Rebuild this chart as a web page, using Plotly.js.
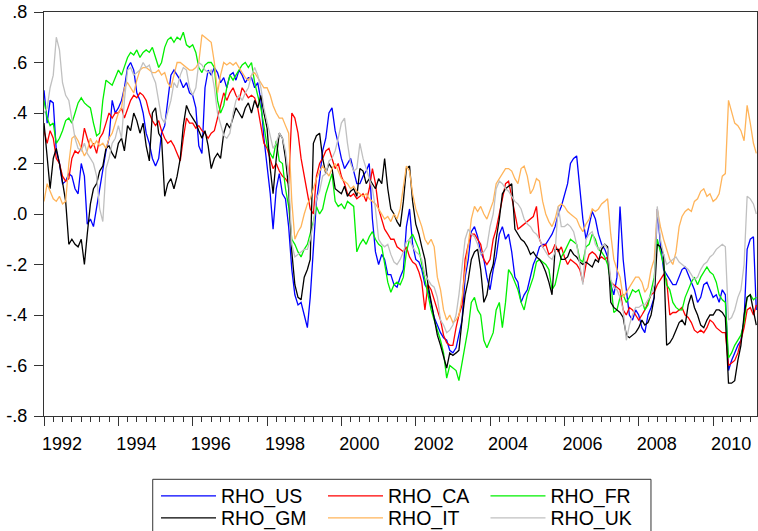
<!DOCTYPE html>
<html>
<head>
<meta charset="utf-8">
<script src="https://cdn.plot.ly/plotly-3.0.1.min.js"></script>
<style>html,body{margin:0;padding:0;background:#fff;}#chart{width:758px;height:531px;}</style>
</head>
<body>
<div id="chart"></div>
<script>
// Monthly observation dates, Jan 1992 - Mar 2011
const firstYear = 1992, lastYear = 2011, lastMonth = 3;
const months = [];
for (let y = firstYear; y <= lastYear; y++) {
  for (let m = 1; m <= 12; m++) {
    if (y === lastYear && m > lastMonth) break;
    months.push(y + '-' + String(m).padStart(2, '0') + '-01');
  }
}

const rhoUS = [
 .49,.36,.45,.44,.25,.20,.12,.13,.16,.15,.10,.08,
 .20,.15,-.04,-.02,-.05,.03,.10,.18,.25,.30,.45,.40,
 .42,.45,.50,.58,.60,.57,.48,.45,.40,.32,.28,.22,
 .19,.22,.32,.35,.45,.55,.57,.55,.53,.50,.52,.48,
 .47,.42,.27,.24,.50,.57,.55,.58,.56,.52,.54,.50,
 .55,.56,.53,.57,.55,.52,.54,.54,.50,.52,.45,.30,
 .19,.08,-.06,.10,.16,.08,.06,-.05,-.22,-.32,-.36,-.35,
 -.40,-.45,-.33,-.15,.05,.14,.25,.30,.40,.42,.33,.28,
 .22,.18,.20,.22,.17,.12,.12,.15,.17,.20,-.02,-.15,
 -.20,-.16,-.18,-.24,-.24,-.28,-.29,-.25,-.22,-.05,.02,-.12,
 -.18,-.19,-.22,-.28,-.30,-.36,-.41,-.44,-.47,-.49,-.50,-.54,
 -.55,-.53,-.48,-.42,-.25,-.18,-.07,-.05,-.09,-.15,-.18,-.25,
 -.30,-.22,-.17,-.08,-.05,-.10,-.08,-.15,-.25,-.27,-.35,-.32,
 -.30,-.25,-.20,-.17,-.13,-.12,-.12,-.10,-.08,-.05,.00,.03,
 .08,.12,.20,.22,.23,.10,-.02,-.10,-.05,.01,-.02,-.08,
 -.12,-.14,-.17,-.28,-.32,-.25,.03,-.18,-.30,-.40,-.42,-.38,
 -.40,-.45,-.47,-.40,-.37,-.33,.02,-.12,-.22,-.24,-.26,-.28,
 -.28,-.25,-.22,-.21,-.24,-.27,-.30,-.35,-.33,-.28,-.27,-.30,
 -.33,-.32,-.35,-.30,-.32,-.62,-.58,-.55,-.52,-.50,-.42,-.14,
 -.10,-.09,-.38
];
const rhoCA = [
 .33,.28,.33,.30,.22,.20,.15,.13,.14,.22,.25,.24,
 .26,.34,.30,.26,.28,.24,.30,.32,.36,.40,.38,.40,
 .40,.42,.38,.42,.45,.47,.46,.48,.47,.45,.40,.37,
 .35,.37,.33,.30,.28,.29,.27,.24,.21,.30,.38,.36,
 .36,.34,.35,.33,.32,.30,.32,.33,.38,.43,.48,.45,
 .48,.50,.47,.45,.50,.48,.46,.47,.46,.42,.35,.28,
 .26,.22,.18,.20,.17,.15,.14,.12,.40,.38,.32,.22,
 .15,.08,.02,.00,.15,.20,.22,.25,.26,.22,.18,.20,
 .15,.12,.08,.07,.08,.06,.07,.08,.05,.10,.18,.12,
 .02,-.02,-.06,-.08,-.10,-.10,-.13,-.14,-.15,-.13,-.17,-.19,
 -.20,-.23,-.27,-.38,-.28,-.30,-.34,-.38,-.42,-.48,-.51,-.52,
 -.52,-.45,-.40,-.36,-.18,-.12,-.08,-.08,-.10,-.12,-.18,-.20,
 -.18,-.10,-.06,.00,.05,.12,.13,.07,.00,-.06,-.05,-.04,
 -.03,-.02,-.01,.03,-.10,-.13,-.12,-.16,-.15,-.12,-.15,-.13,
 -.17,-.20,-.18,-.19,-.20,-.22,-.27,-.20,-.16,-.15,-.16,-.18,
 -.17,-.18,-.17,-.27,-.28,-.29,-.30,-.38,-.40,-.37,-.38,-.40,
 -.42,-.40,-.38,-.35,-.32,-.31,-.28,-.26,-.24,-.26,-.40,-.39,
 -.39,-.38,-.37,-.40,-.41,-.43,-.46,-.47,-.46,-.47,-.45,-.42,
 -.43,-.45,-.46,-.47,-.47,-.60,-.59,-.58,-.55,-.50,-.45,-.38,
 -.37,-.40,-.36
];
const rhoFR = [
 .45,.38,.35,.36,.28,.30,.33,.37,.38,.36,.40,.44,
 .46,.44,.43,.42,.36,.31,.32,.45,.53,.52,.51,.54,
 .57,.55,.58,.62,.64,.63,.65,.62,.64,.65,.64,.66,
 .62,.58,.60,.66,.69,.70,.68,.70,.69,.72,.67,.66,
 .67,.64,.58,.56,.59,.60,.60,.58,.45,.40,.43,.50,
 .55,.53,.55,.57,.59,.60,.58,.60,.52,.47,.42,.35,
 .27,.24,.22,.29,.21,.20,.10,.03,-.10,-.12,-.15,-.17,
 -.14,-.12,-.08,-.03,.03,.00,.02,.08,.12,.16,.05,.03,
 .04,.02,.05,.04,.03,-.15,-.12,-.10,-.12,-.09,-.07,-.10,
 -.12,-.13,-.20,-.27,-.31,-.28,-.27,-.28,-.25,-.15,-.10,-.08,
 -.11,-.14,-.20,-.26,-.32,-.38,-.42,-.46,-.50,-.55,-.65,-.60,
 -.61,-.62,-.66,-.58,-.52,-.45,-.35,-.33,-.38,-.40,-.50,-.53,
 -.50,-.47,-.38,-.35,-.45,-.35,-.22,-.24,-.27,-.30,-.35,-.38,
 -.32,-.28,-.25,-.19,-.18,-.19,-.20,-.22,-.30,-.28,-.22,-.17,
 -.15,-.12,-.10,-.11,-.12,-.18,-.19,-.13,-.12,-.08,-.10,-.14,
 -.15,-.17,-.20,-.27,-.39,-.38,-.33,-.32,-.35,-.33,-.30,-.31,
 -.30,-.34,-.38,-.36,-.30,-.25,-.10,-.15,-.20,-.28,-.30,-.35,
 -.37,-.38,-.38,-.33,-.30,-.27,-.25,-.28,-.25,-.23,-.21,-.23,
 -.24,-.27,-.32,-.34,-.35,-.57,-.55,-.52,-.50,-.48,-.43,-.33,
 -.32,-.34,-.33
];
const rhoGM = [
 .36,.24,.10,.22,.26,.20,.12,.05,-.12,-.10,-.12,-.13,
 -.10,-.20,-.08,.04,.10,.12,.17,.19,.26,.27,.24,.22,
 .28,.30,.25,.35,.33,.40,.37,.32,.36,.27,.21,.40,
 .42,.32,.30,.07,.12,.14,.10,.15,.22,.35,.43,.40,
 .38,.36,.33,.30,.33,.27,.18,.22,.24,.22,.32,.36,
 .34,.38,.42,.40,.38,.42,.44,.40,.45,.42,.47,.40,
 .34,.18,.08,.22,.32,.30,.22,.10,-.15,-.28,-.33,-.34,
 -.25,-.22,-.18,.28,.31,.32,.22,.16,.20,.18,.10,.09,
 .08,.11,.07,.09,.10,.07,.18,.17,.12,.14,.12,.10,
 .14,.12,.22,.10,.02,.00,-.03,-.05,.05,.18,.19,.05,
 -.04,-.08,-.13,-.18,-.28,-.35,-.42,-.48,-.52,-.57,-.61,-.55,
 -.56,-.55,-.54,-.42,-.32,-.26,-.18,-.15,-.14,-.22,-.35,-.32,
 -.24,-.20,-.10,-.02,.08,.10,.11,.12,-.06,-.08,-.10,-.11,
 -.13,-.16,-.15,-.17,-.18,-.20,-.23,-.27,-.32,-.14,-.14,-.18,
 -.18,-.17,-.14,-.16,-.17,-.19,-.20,-.19,-.20,-.21,-.18,-.19,
 -.14,-.12,-.13,-.35,-.37,-.38,-.39,-.41,-.48,-.49,-.48,-.47,
 -.45,-.42,-.44,-.43,-.40,-.33,-.12,-.13,-.16,-.52,-.51,-.49,
 -.46,-.43,-.42,-.44,-.36,-.32,-.37,-.40,-.44,-.45,-.42,-.40,
 -.40,-.38,-.38,-.39,-.41,-.67,-.67,-.66,-.58,-.52,-.40,-.33,
 -.32,-.38,-.44
];
const rhoIT = [
 .05,.12,.09,.06,.05,.07,.04,.05,.20,.30,.31,.29,
 .26,.23,.25,.30,.27,.29,.27,.28,.26,.30,.32,.36,
 .40,.42,.50,.52,.50,.48,.53,.57,.58,.58,.57,.56,
 .56,.57,.55,.56,.52,.50,.55,.60,.60,.59,.58,.57,
 .57,.58,.60,.71,.70,.69,.68,.60,.48,.55,.60,.59,
 .60,.59,.60,.58,.56,.54,.53,.55,.56,.54,.52,.50,
 .50,.47,.43,.40,.38,.38,.35,.32,.05,-.10,-.07,-.05,
 .00,.04,.06,.10,.14,.17,.19,.17,.15,.18,.20,.17,
 .14,.13,.12,.10,.11,.09,.08,.07,.08,.06,.05,.04,
 .02,.00,-.02,-.01,-.03,.00,-.02,.02,.10,.19,.17,.08,
 .02,-.02,-.05,-.10,-.12,-.10,-.13,-.25,-.30,-.38,-.42,-.40,
 -.43,-.42,-.40,-.33,-.22,-.12,-.02,.03,.01,.03,.00,-.02,
 .02,.05,.12,.14,.16,.18,.18,.17,.14,.12,.18,.19,
 .15,.08,.10,.14,.13,.05,.00,-.03,-.05,-.02,.03,.04,
 .03,.01,.00,-.01,-.02,-.05,-.07,-.04,-.02,.02,.01,.02,
 .04,.05,.06,-.08,-.18,-.22,-.25,-.33,-.31,-.29,-.27,-.25,
 -.25,-.27,-.31,-.29,-.22,-.18,.02,-.05,-.10,-.14,-.18,-.20,
 -.15,-.05,-.01,.01,.02,.01,.05,.06,.09,.10,.07,.08,
 .05,.06,.08,.15,.16,.45,.40,.36,.35,.33,.29,.43,
 .36,.28,.24
];
const rhoUK = [
 .40,.42,.50,.55,.70,.65,.52,.47,.45,.38,.30,.26,
 .25,.28,.24,.22,.20,.15,.02,-.03,.18,.22,.28,.30,
 .35,.30,.45,.57,.58,.55,.56,.57,.60,.58,.59,.55,
 .52,.45,.38,.36,.40,.45,.52,.50,.55,.58,.57,.50,
 .47,.50,.60,.59,.57,.56,.57,.50,.40,.35,.31,.30,
 .32,.40,.45,.47,.45,.48,.50,.55,.58,.55,.50,.42,
 .36,.30,.26,.28,.32,.30,.25,.15,-.12,-.17,-.16,-.15,
 -.14,-.14,-.10,-.04,.06,.09,.15,.16,.21,.22,.25,.30,
 .36,.38,.28,.20,.17,.18,.28,.22,.18,.14,.10,.02,
 -.10,-.12,-.13,-.12,-.16,-.19,-.20,-.18,-.15,-.11,-.10,-.13,
 -.15,-.16,-.18,-.24,-.26,-.28,-.29,-.33,-.42,-.44,-.47,-.46,
 -.44,-.40,-.32,-.22,-.10,-.06,-.08,-.09,-.12,-.16,-.15,-.13,
 -.05,.00,.10,.13,.12,.10,.09,.07,.05,.04,.02,-.02,
 -.04,-.05,-.07,-.08,-.10,-.13,-.15,-.17,-.18,-.15,.03,-.05,
 -.05,-.04,-.05,-.07,-.12,-.20,-.28,-.10,-.08,-.07,-.12,-.14,
 -.13,-.12,-.14,-.26,-.29,-.30,-.33,-.38,-.50,-.44,-.40,-.37,
 -.37,-.36,-.36,-.34,-.32,-.28,.03,-.10,-.16,-.20,-.19,-.18,
 -.17,-.19,-.20,-.21,-.22,-.24,-.26,-.25,-.22,-.20,-.19,-.17,
 -.16,-.14,-.13,-.12,-.13,-.42,-.41,-.38,-.33,-.30,-.20,.07,
 .06,.04,.00
];

const seriesNames = ['RHO_US', 'RHO_CA', 'RHO_FR', 'RHO_GM', 'RHO_IT', 'RHO_UK'];
const seriesValues = [rhoUS, rhoCA, rhoFR, rhoGM, rhoIT, rhoUK];
const seriesColors = ['#0000FF', '#FF0000', '#00F000', '#000000', '#FFB45A', '#C0C0C0'];

const yTickVals = [-0.8, -0.6, -0.4, -0.2, 0, 0.2, 0.4, 0.6, 0.8];
const yTickText = ['-.8', '-.6', '-.4', '-.2', '.0', '.2', '.4', '.6', '.8'];
const xTickVals = ['1992-01-01', '1994-01-01', '1996-01-01', '1998-01-01', '2000-01-01',
                   '2002-01-01', '2004-01-01', '2006-01-01', '2008-01-01', '2010-01-01'];
const xTickText = ['1992', '1994', '1996', '1998', '2000', '2002', '2004', '2006', '2008', '2010'];

// one legend per entry so the 3 x 2 legend grid matches the reference layout
const legendIds = ['legend', 'legend2', 'legend3', 'legend4', 'legend5', 'legend6'];
const legendCols = [0.1571, 0.3913, 0.6192];
const legendRows = [-0.1985, -0.2530];

const traces = seriesNames.map((name, i) => ({
  type: 'scatter',
  mode: 'lines',
  name: name,
  x: months,
  y: seriesValues[i],
  line: {color: seriesColors[i], width: 1.3},
  legend: legendIds[i],
  hoverinfo: 'x+y+name'
}));

const layout = {
  width: 758,
  height: 531,
  margin: {l: 44, r: 1, t: 12, b: 115, autoexpand: false},
  paper_bgcolor: '#ffffff',
  plot_bgcolor: '#ffffff',
  font: {family: 'Liberation Sans, Arial, sans-serif', size: 18, color: '#000'},
  showlegend: true,
  xaxis: {
    type: 'date',
    range: ['1992-01-01', '2011-03-08'],
    tickmode: 'array',
    tickvals: xTickVals,
    ticktext: xTickText,
    ticks: 'outside',
    ticklen: 9,
    tickwidth: 1,
    tickcolor: '#333',
    ticklabelshift: 18,
    ticklabelstandoff: 2,
    tickfont: {size: 18},
    showline: true,
    linecolor: '#333',
    linewidth: 1.2,
    mirror: true,
    showgrid: false,
    zeroline: false,
    minor: {
      tickmode: 'linear',
      tick0: '1992-01-01',
      dtick: 'M3',
      ticks: 'outside',
      ticklen: 5,
      tickwidth: 1,
      tickcolor: '#333',
      showgrid: false
    }
  },
  yaxis: {
    range: [-0.8, 0.8],
    tickmode: 'array',
    tickvals: yTickVals,
    ticktext: yTickText,
    ticks: 'outside',
    ticklen: 9,
    tickwidth: 1,
    tickcolor: '#333',
    ticklabelstandoff: 3,
    tickfont: {size: 18},
    showline: true,
    linecolor: '#333',
    linewidth: 1.2,
    mirror: true,
    showgrid: false,
    zeroline: false
  },
  shapes: [{
    type: 'rect', xref: 'paper', yref: 'paper',
    x0: 0.1525, x1: 0.8513, y0: -0.1567, y1: -0.40,
    line: {color: '#333', width: 1},
    fillcolor: 'rgba(0,0,0,0)'
  }]
};

legendIds.forEach((id, i) => {
  layout[id] = {
    orientation: 'h',
    xanchor: 'left',
    yanchor: 'middle',
    x: legendCols[i % 3],
    y: legendRows[Math.floor(i / 3)],
    font: {family: 'Liberation Sans, Arial, sans-serif', size: 19.5, color: '#000'},
    itemwidth: 55,
    bgcolor: 'rgba(0,0,0,0)',
    borderwidth: 0
  };
});

Plotly.newPlot('chart', traces, layout, {displayModeBar: false, staticPlot: true});
</script>
</body>
</html>
